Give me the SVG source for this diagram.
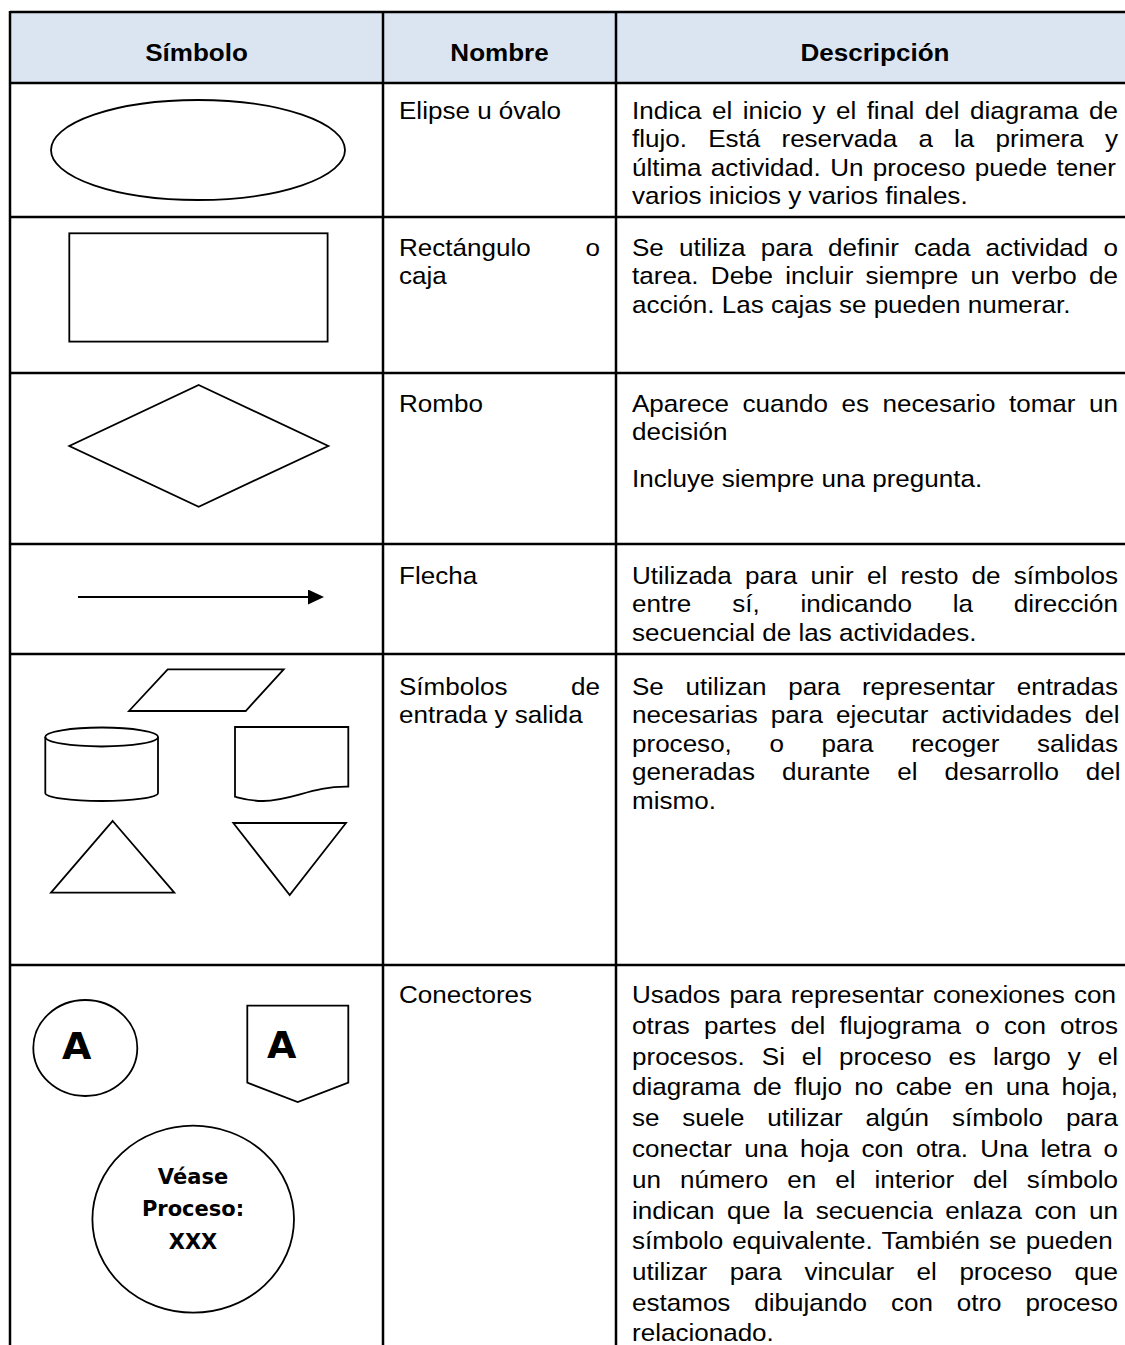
<svg xmlns="http://www.w3.org/2000/svg" width="1125" height="1345" viewBox="0 0 1125 1345">
<style>
.t{font-family:"Liberation Sans",Arial,sans-serif;font-size:24px;fill:#000}
.hd{font-weight:bold;text-anchor:middle}
.sym{font-family:"DejaVu Sans",Verdana,sans-serif;font-weight:bold;fill:#000;text-anchor:middle}
.grid line{stroke:#000;stroke-width:2.5}
.shape{fill:none;stroke:#000;stroke-width:1.8}
</style>
<defs>
<marker id="ah" markerUnits="userSpaceOnUse" markerWidth="17" markerHeight="16" refX="0" refY="7.5" orient="auto">
<path d="M0,0 L16,7.5 L0,15 z" fill="#000"/>
</marker>
</defs>
<rect width="1125" height="1345" fill="#fff"/>
<rect x="10" y="12" width="1115" height="71" fill="#DBE5F1"/>
<g class="grid" id="grid">
<line x1="10" y1="12" x2="1125" y2="12"/>
<line x1="10" y1="83" x2="1125" y2="83"/>
<line x1="10" y1="217" x2="1125" y2="217"/>
<line x1="10" y1="373" x2="1125" y2="373"/>
<line x1="10" y1="544" x2="1125" y2="544"/>
<line x1="10" y1="654" x2="1125" y2="654"/>
<line x1="10" y1="965" x2="1125" y2="965"/>
<line x1="10" y1="11" x2="10" y2="1345"/>
<line x1="383" y1="11" x2="383" y2="1345"/>
<line x1="616" y1="11" x2="616" y2="1345"/>
</g>
<g id="header" class="t hd">
<text transform="translate(196.5,61) scale(1.085,1)">Símbolo</text>
<text transform="translate(499.5,61) scale(1.085,1)">Nombre</text>
<text transform="translate(875,61) scale(1.085,1)">Descripción</text>
</g>
<g id="row-elipse">
<ellipse class="shape" cx="198" cy="150" rx="147" ry="50"/>
<g class="t" transform="translate(399,0) scale(1.085,1)"><text x="0" y="119">Elipse u óvalo</text></g>
<g class="t" transform="translate(632,0) scale(1.085,1)">
<text x="0" y="119" style="word-spacing:2.98px">Indica el inicio y el final del diagrama de</text>
<text x="0" y="147.5" style="word-spacing:12.87px">flujo. Está reservada a la primera y</text>
<text x="0" y="176" style="word-spacing:1.97px">última actividad. Un proceso puede tener</text>
<text x="0" y="204.5">varios inicios y varios finales.</text>
</g>
</g>
<g id="row-rectangulo">
<rect class="shape" x="69.3" y="233.3" width="258.3" height="108.3"/>
<g class="t" transform="translate(399,0) scale(1.085,1)">
<text x="0" y="256">Rectángulo</text><text x="185.3" y="256" text-anchor="end">o</text>
<text x="0" y="284.5">caja</text>
</g>
<g class="t" transform="translate(632,0) scale(1.085,1)">
<text x="0" y="256" style="word-spacing:7.3px">Se utiliza para definir cada actividad o</text>
<text x="0" y="284.5" style="word-spacing:4.64px">tarea. Debe incluir siempre un verbo de</text>
<text x="0" y="313">acción. Las cajas se pueden numerar.</text>
</g>
</g>
<g id="row-rombo">
<polygon class="shape" points="198.7,385 328.3,446 198.7,506.7 69.3,446"/>
<g class="t" transform="translate(399,0) scale(1.085,1)"><text x="0" y="412">Rombo</text></g>
<g class="t" transform="translate(632,0) scale(1.085,1)">
<text x="0" y="412" style="word-spacing:5.83px">Aparece cuando es necesario tomar un</text>
<text x="0" y="440.5">decisión</text>
<text x="0" y="487">Incluye siempre una pregunta.</text>
</g>
</g>
<g id="row-flecha">
<line x1="78" y1="597" x2="308" y2="597" stroke="#000" stroke-width="2.2" marker-end="url(#ah)"/>
<g class="t" transform="translate(399,0) scale(1.085,1)"><text x="0" y="584">Flecha</text></g>
<g class="t" transform="translate(632,0) scale(1.085,1)">
<text x="0" y="584" style="word-spacing:5.53px">Utilizada para unir el resto de símbolos</text>
<text x="0" y="612.5" style="word-spacing:30.97px">entre sí, indicando la dirección</text>
<text x="0" y="641">secuencial de las actividades.</text>
</g>
</g>
<g id="row-entrada-salida">
<polygon class="shape" points="167.7,669.3 283.7,669.3 245.7,711 129,711"/>
<path class="shape" d="M45.3,737 V793 A56.35,8 0 0 0 158,793 V737"/>
<ellipse class="shape" cx="101.65" cy="737" rx="56.35" ry="9.5"/>
<path class="shape" d="M235,727 H348.3 V786.7 C312,786 292,801 263,801 C250,801 242,798.5 235,796.7 Z"/>
<polygon class="shape" points="112.7,821 174.3,892.7 51,892.7"/>
<polygon class="shape" points="233.3,823 346,823 289.7,895"/>
<g class="t" transform="translate(399,0) scale(1.085,1)">
<text x="0" y="695">Símbolos</text><text x="185.3" y="695" text-anchor="end">de</text>
<text x="0" y="723.5">entrada y salida</text>
</g>
<g class="t" transform="translate(632,0) scale(1.085,1)">
<text x="0" y="695" style="word-spacing:13.29px">Se utilizan para representar entradas</text>
<text x="0" y="723.5" style="word-spacing:5.29px">necesarias para ejecutar actividades del</text>
<text x="0" y="752" style="word-spacing:27.97px">proceso, o para recoger salidas</text>
<text x="0" y="780.5" style="word-spacing:18.22px">generadas durante el desarrollo del</text>
<text x="0" y="809">mismo.</text>
</g>
</g>
<g id="row-conectores">
<ellipse class="shape" cx="85.3" cy="1048" rx="52" ry="48"/>
<text class="sym" x="76.7" y="1059" font-size="38">A</text>
<polygon class="shape" points="247.3,1005.7 348.3,1005.7 348.3,1082.7 297.7,1102 247.3,1082.7"/>
<text class="sym" x="281.7" y="1058" font-size="38">A</text>
<ellipse class="shape" cx="193.2" cy="1219.2" rx="100.8" ry="93.5"/>
<text class="sym" x="193" y="1184" font-size="21">Véase</text>
<text class="sym" x="193" y="1216" font-size="21">Proceso:</text>
<text class="sym" x="193" y="1249" font-size="21">XXX</text>
<g class="t" transform="translate(399,0) scale(1.085,1)"><text x="0" y="1003">Conectores</text></g>
<g class="t" transform="translate(632,0) scale(1.085,1)">
<text x="0" y="1003" style="word-spacing:1.83px">Usados para representar conexiones con</text>
<text x="0" y="1033.8" style="word-spacing:6.42px">otras partes del flujograma o con otros</text>
<text x="0" y="1064.6" style="word-spacing:8.93px">procesos. Si el proceso es largo y el</text>
<text x="0" y="1095.4" style="word-spacing:4.73px">diagrama de flujo no cabe en una hoja,</text>
<text x="0" y="1126.2" style="word-spacing:14.37px">se suele utilizar algún símbolo para</text>
<text x="0" y="1157" style="word-spacing:4.73px">conectar una hoja con otra. Una letra o</text>
<text x="0" y="1187.8" style="word-spacing:10.86px">un número en el interior del símbolo</text>
<text x="0" y="1218.6" style="word-spacing:4.85px">indican que la secuencia enlaza con un</text>
<text x="0" y="1249.4" style="word-spacing:1.82px">símbolo equivalente. También se pueden</text>
<text x="0" y="1280.2" style="word-spacing:14.1px">utilizar para vincular el proceso que</text>
<text x="0" y="1311" style="word-spacing:15.29px">estamos dibujando con otro proceso</text>
<text x="0" y="1341.5">relacionado.</text>
</g>
</g>
</svg>
